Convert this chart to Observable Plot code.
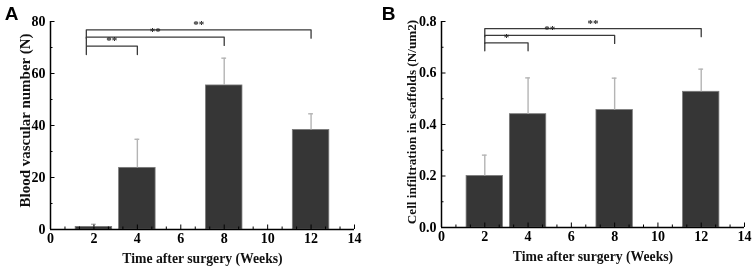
<!DOCTYPE html>
<html>
<head>
<meta charset="utf-8">
<script src="https://cdn.jsdelivr.net/npm/d3@7"></script>
<script src="https://cdn.jsdelivr.net/npm/@observablehq/plot@0.6"></script>
<style>
  html, body { margin: 0; padding: 0; background: #fff; }
  #wrap { display: flex; flex-direction: row; width: 755px; height: 271px; }
  #wrap svg { will-change: transform; }
</style>
</head>
<body>
<div id="wrap"></div>
<script>
// ---- data ----
const weeks = [2, 4, 8, 12];
const vesselMean = [1, 23.7, 55.4, 38.3];
const vesselErr = [1, 11, 10.5, 6.2];
const infilMean = [0.200, 0.440, 0.456, 0.527];
const infilErr = [0.081, 0.141, 0.124, 0.088];

const xTicks = [0, 2, 4, 6, 8, 10, 12, 14];
const xMinorTicks = [2/3, 4/3, 8/3, 10/3, 14/3, 16/3, 20/3, 22/3, 26/3, 28/3, 32/3, 34/3, 38/3, 40/3];
const vesselYTicks = [0, 20, 40, 60, 80];
const vesselYMinor = [10, 30, 50, 70];
const infilYTicks = [0, 0.2, 0.4, 0.6, 0.8];
const infilYMinor = [0.1, 0.3, 0.5, 0.7];

const compareEnds = [4, 8, 12];
const vesselStars = ["**", "**", "**"];
const vesselBracketY = [70.5, 74, 76.8];
const infilStars = ["*", "**", "**"];
const infilBracketY = [0.717, 0.746, 0.772];

const xLabel = "Time after surgery (Weeks)";

function panel(o) {
  const bars = weeks.map((w, i) => ({week: w, mean: o.means[i], err: o.errs[i]}));
  const brackets = compareEnds.map((e, i) => ({id: i, start: o.start, end: e, h: o.heights[i], stars: o.stars[i]}));
  const bracketPts = brackets.flatMap(b => [
    {id: b.id, x: b.start, y: b.h - o.drop},
    {id: b.id, x: b.start, y: b.h},
    {id: b.id, x: b.end, y: b.h},
    {id: b.id, x: b.end, y: b.h - o.drop}
  ]);
  const barHalf = 0.84, capHalf = 0.11;
  return Plot.plot({
    width: o.width, height: 271,
    marginLeft: o.marginLeft, marginRight: o.marginRight, marginTop: 21, marginBottom: o.marginBottom,
    style: "font-family: 'Liberation Serif', serif; font-weight: bold; font-size: 14px; background: #fff; color: #111;",
    x: {domain: [0, 14], label: null},
    y: {domain: o.yDomain, label: null},
    marks: [
      Plot.rectY(bars, {x1: d => d.week - barHalf, x2: d => d.week + barHalf, y: "mean", fill: "#363636", stroke: "#7a7a7a", strokeWidth: 0.8}),
      Plot.ruleX(bars, {x: "week", y1: "mean", y2: d => d.mean + d.err, stroke: "#b4b4b4", strokeWidth: 1.4}),
      Plot.ruleY(bars, {y: d => d.mean + d.err, x1: d => d.week - capHalf, x2: d => d.week + capHalf, stroke: "#b4b4b4", strokeWidth: 1.4}),
      Plot.line(bracketPts, {x: "x", y: "y", z: "id", stroke: "#3a3a3a", strokeWidth: 1.3}),
      Plot.text(brackets, {x: d => (d.start + d.end) / 2, y: "h", text: "stars", dy: -2, lineAnchor: "bottom", fontSize: 11, fill: "#222"}),
      Plot.axisX({ticks: xMinorTicks, tickSize: -2.5, tickFormat: () => "", stroke: "#000"}),
      Plot.axisX({ticks: xTicks, tickSize: -4.5, tickPadding: 8.5, tickFormat: d => String(d), stroke: "#000", fill: "#000", fontSize: 14}),
      Plot.axisY({ticks: o.yMinor, tickSize: -2.5, tickFormat: () => "", stroke: "#000"}),
      Plot.axisY({ticks: o.yTicks, tickSize: -4.5, tickPadding: 9.5, tickFormat: o.yFormat, stroke: "#000", fill: "#000", fontSize: 14}),
      Plot.ruleY([o.yDomain[0]], {stroke: "#000", strokeWidth: 1.5}),
      Plot.ruleX([0], {stroke: "#000", strokeWidth: 1.5}),
      Plot.text([xLabel], {frameAnchor: "bottom", lineAnchor: "middle", textAnchor: "middle", dy: 29, fontSize: 13.7, fill: "#111"}),
      Plot.text([o.yLabel], {frameAnchor: "left", textAnchor: "middle", lineAnchor: "middle", rotate: -90, dx: o.yLabelDx, dy: o.yLabelDy, fontSize: o.yLabelSize, fill: "#111"}),
      Plot.text([o.letter], {frameAnchor: "top-left", textAnchor: "middle", lineAnchor: "middle", dx: o.letterDx, dy: -8, fontSize: 19, fontFamily: "'Liberation Sans', Arial, sans-serif", fontWeight: "bold", fill: "#000"})
    ]
  });
}

const wrap = document.getElementById("wrap");
wrap.appendChild(panel({
  width: 378, marginLeft: 50, marginRight: 24, marginBottom: 42,
  yDomain: [0, 80], yTicks: vesselYTicks, yMinor: vesselYMinor, yFormat: d => String(d),
  means: vesselMean, errs: vesselErr,
  start: 1.65, heights: vesselBracketY, stars: vesselStars, drop: 3.2,
  yLabel: "Blood vascular number (N)", yLabelSize: 15, yLabelDx: -25, yLabelDy: -5,
  letter: "A", letterDx: -39
}));
wrap.appendChild(panel({
  width: 377, marginLeft: 63, marginRight: 11, marginBottom: 44,
  yDomain: [0, 0.8], yTicks: infilYTicks, yMinor: infilYMinor, yFormat: d => d.toFixed(1),
  means: infilMean, errs: infilErr,
  start: 2, heights: infilBracketY, stars: infilStars, drop: 0.031,
  yLabel: "Cell infiltration in scaffolds (N/um2)", yLabelSize: 13.2, yLabelDx: -30, yLabelDy: -2.5,
  letter: "B", letterDx: -53
}));
</script>
</body>
</html>
